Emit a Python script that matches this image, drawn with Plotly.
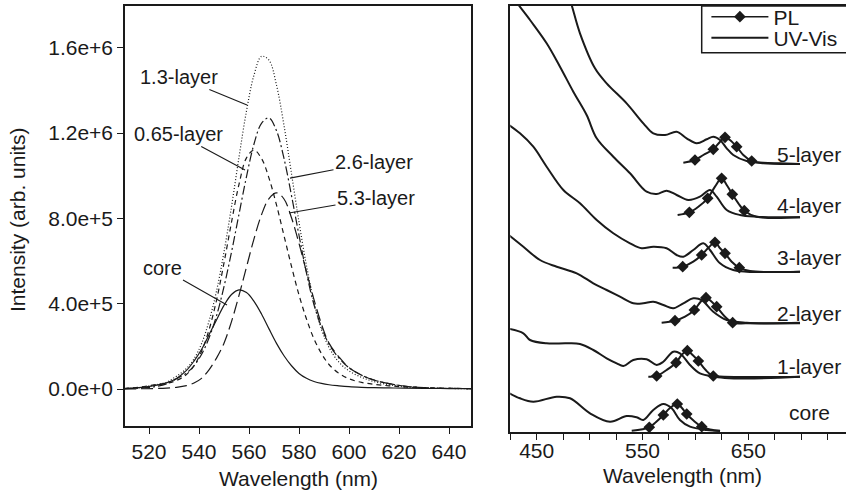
import plotly.graph_objects as go

# ---------------- Left panel: PL spectra (intensity vs wavelength) ----------------
wl_left = [510, 516, 522, 527, 531, 535, 538, 541, 544, 547, 550, 553, 556, 559, 562,
           565, 568, 571, 574, 577, 580, 583, 586, 589, 592, 596, 600, 605, 610, 616,
           622, 630, 640, 650]

pl_core = [2e3, 6e3, 1.56e4, 2.84e4, 4.97e4, 8.74e4, 1.31e5, 1.85e5, 2.54e5, 3.24e5,
           3.92e5, 4.43e5, 4.65e5, 4.52e5, 4.11e5, 3.52e5, 2.82e5, 2.14e5, 1.56e5, 1.09e5,
           7.3e4, 5.0e4, 3.5e4, 2.6e4, 2.0e4, 1.5e4, 1.1e4, 8e3, 6e3, 5e3, 4e3, 3e3, 2e3, 1.5e3]
pl_065 = [3e3, 8e3, 2.0e4, 2.7e4, 4.0e4, 6.8e4, 1.09e5, 1.76e5, 2.77e5, 4.16e5, 5.91e5,
          7.82e5, 9.6e5, 1.084e6, 1.12e6, 1.081e6, 9.89e5, 8.63e5, 7.19e5, 5.75e5, 4.41e5,
          3.28e5, 2.35e5, 1.66e5, 1.15e5, 7.3e4, 4.8e4, 3.1e4, 2.2e4, 1.5e4, 1e4, 6e3, 3e3, 2e3]
pl_13 = [2e3, 6e3, 1.8e4, 3.2e4, 6.0e4, 9.6e4, 1.41e5, 2.12e5, 3.18e5, 4.59e5, 6.42e5,
         8.55e5, 1.087e6, 1.304e6, 1.472e6, 1.56e6, 1.542e6, 1.425e6, 1.236e6, 1.01e6,
         7.83e5, 5.78e5, 4.07e5, 2.79e5, 1.95e5, 1.25e5, 8.5e4, 5.5e4, 3.5e4, 2.0e4, 1.0e4,
         5e3, 2.5e3, 1.5e3]
pl_26 = [2e3, 4e3, 1.0e4, 2.4e4, 4.8e4, 7.5e4, 1.09e5, 1.62e5, 2.39e5, 3.43e5, 4.8e5,
         6.42e5, 8.2e5, 9.96e5, 1.149e6, 1.246e6, 1.271e6, 1.211e6, 1.081e6, 9.07e5, 7.21e5,
         5.43e5, 3.95e5, 2.9e5, 2.1e5, 1.45e5, 1.0e5, 6.5e4, 4.2e4, 2.5e4, 1.4e4, 6e3, 3e3, 2e3]
pl_53 = [1e3, 1e3, 2e3, 4e3, 8e3, 1.6e4, 2.8e4, 5.0e4, 9.0e4, 1.45e5, 2.15e5, 3.16e5,
         4.39e5, 5.72e5, 7.04e5, 8.17e5, 8.93e5, 9.2e5, 8.91e5, 8.03e5, 6.83e5, 5.49e5,
         4.19e5, 3.04e5, 2.15e5, 1.5e5, 1.0e5, 6.5e4, 4.2e4, 2.5e4, 1.4e4, 6e3, 3e3, 2e3]

left_names = ["core", "0.65-layer", "1.3-layer", "2.6-layer", "5.3-layer"]
left_series = [pl_core, pl_065, pl_13, pl_26, pl_53]
left_y_ticks = [0, 4e5, 8e5, 1.2e6, 1.6e6]
left_x_ticks = [520, 540, 560, 580, 600, 620, 640]

# ---------------- Right panel: UV-Vis (offset) and PL (offset) ----------------
uv_wl_5 = [476.0, 481.5, 490.9, 505.1, 516.1, 535.0, 550.8, 560.2, 571.3, 582.3, 591.7,
           601.2, 610.7, 616.9, 623.3, 629.6, 635.8, 648.5, 664.2, 680.0, 698.9]
uv_5 = [4.46, 4.32, 3.987, 3.637, 3.487, 3.287, 3.087, 2.987, 2.97, 3.003, 2.937, 2.887,
        2.927, 2.953, 2.92, 2.837, 2.77, 2.71, 2.693, 2.687, 2.68]
uv_wl_4 = [422.0, 429.5, 443.7, 459.4, 472.0, 484.6, 497.2, 506.7, 522.4, 538.2, 553.9,
           563.4, 572.8, 582.3, 593.3, 604.3, 613.8, 620.1, 629.6, 642.2, 657.9, 698.9]
uv_4 = [4.45, 4.32, 4.12, 3.887, 3.653, 3.403, 3.17, 2.937, 2.753, 2.587, 2.403, 2.38,
        2.413, 2.37, 2.32, 2.353, 2.42, 2.353, 2.22, 2.17, 2.153, 2.147]
uv_wl_3 = [421.6, 434.2, 446.8, 459.4, 475.2, 490.9, 506.7, 522.4, 538.2, 549.2, 560.2,
           572.8, 582.3, 588.6, 598.0, 607.5, 613.8, 623.3, 635.8, 648.5, 698.9]
uv_3 = [3.087, 2.987, 2.853, 2.653, 2.42, 2.287, 2.12, 1.987, 1.887, 1.837, 1.853, 1.837,
        1.77, 1.753, 1.82, 1.887, 1.82, 1.687, 1.62, 1.603, 1.603]
uv_wl_2 = [421.6, 437.4, 453.1, 468.9, 487.8, 503.5, 516.1, 528.7, 541.3, 550.8, 560.2,
           569.7, 579.1, 588.6, 598.0, 605.9, 616.9, 629.6, 648.5, 698.9]
uv_2 = [1.987, 1.853, 1.72, 1.653, 1.587, 1.487, 1.42, 1.353, 1.287, 1.287, 1.303, 1.27,
        1.237, 1.287, 1.337, 1.32, 1.203, 1.12, 1.093, 1.093]
uv_wl_1 = [421.6, 437.4, 443.7, 459.4, 478.3, 490.9, 503.5, 516.1, 525.6, 531.9, 541.3,
           553.9, 563.4, 569.7, 579.1, 585.4, 594.9, 604.3, 616.9, 698.9]
uv_1 = [1.037, 0.987, 0.92, 0.887, 0.887, 0.88, 0.82, 0.737, 0.687, 0.66, 0.72, 0.727,
        0.67, 0.703, 0.803, 0.787, 0.67, 0.587, 0.56, 0.553]
uv_wl_c = [421.6, 434.2, 446.8, 468.9, 481.5, 500.4, 519.3, 535.1, 544.5, 550.8, 560.2,
           569.7, 577.6, 585.4, 594.9, 610.7, 623.3]
uv_c = [0.403, 0.337, 0.303, 0.353, 0.337, 0.187, 0.103, 0.16, 0.147, 0.12, 0.22, 0.28,
        0.237, 0.12, 0.053, 0.02, 0.01]

pl_wl_5 = [588.6, 599.6, 607.5, 616.9, 623.3, 628.0, 632.7, 639.0, 645.3, 653.2, 664.2, 698.9]
pl_5 = [2.693, 2.72, 2.77, 2.827, 2.903, 2.947, 2.92, 2.853, 2.77, 2.71, 2.687, 2.68]
pl_wl_4 = [583.2, 594.3, 602.8, 611.6, 618.5, 624.8, 629.6, 634.9, 640.6, 646.2, 657.9, 698.9]
pl_4 = [2.17, 2.197, 2.253, 2.337, 2.453, 2.537, 2.47, 2.377, 2.287, 2.213, 2.153, 2.147]
pl_wl_3 = [578.5, 588.0, 598.0, 605.9, 613.2, 618.5, 623.3, 628.0, 634.3, 641.5, 651.6, 698.9]
pl_3 = [1.643, 1.653, 1.703, 1.77, 1.853, 1.897, 1.837, 1.787, 1.703, 1.643, 1.61, 1.603]
pl_wl_2 = [568.1, 580.7, 590.2, 599.0, 605.0, 610.0, 615.4, 620.1, 628.0, 635.2, 648.5, 698.9]
pl_2 = [1.093, 1.113, 1.153, 1.22, 1.303, 1.343, 1.303, 1.253, 1.153, 1.093, 1.087, 1.087]
pl_wl_1 = [555.5, 563.4, 572.8, 581.7, 587.0, 592.4, 597.4, 602.8, 609.1, 616.9, 698.9]
pl_1 = [0.553, 0.56, 0.62, 0.693, 0.77, 0.813, 0.77, 0.71, 0.627, 0.56, 0.553]
pl_wl_c = [539.8, 556.4, 562.8, 569.7, 576.0, 582.9, 587.3, 591.8, 598.7, 606.0, 613.8, 623.3]
pl_c = [0.013, 0.047, 0.1, 0.17, 0.24, 0.28, 0.24, 0.18, 0.11, 0.053, 0.025, 0.013]
pl_marker_idx = [1, 3, 5, 7, 9]   # measured points shown as diamonds

right_labels = ["5-layer", "4-layer", "3-layer", "2-layer", "1-layer", "core"]
right_label_y = [2.78, 2.27, 1.747, 1.187, 0.653, 0.197]
right_label_x = 707.4
right_x_ticks = [450, 550, 650]

uv_sets = [(uv_wl_5, uv_5), (uv_wl_4, uv_4), (uv_wl_3, uv_3), (uv_wl_2, uv_2),
           (uv_wl_1, uv_1), (uv_wl_c, uv_c)]
pl_sets = [(pl_wl_5, pl_5), (pl_wl_4, pl_4), (pl_wl_3, pl_3), (pl_wl_2, pl_2),
           (pl_wl_1, pl_1), (pl_wl_c, pl_c)]

# ---------------- Figure ----------------
W, H = 846, 494
FONT = "Liberation Sans, Arial, Helvetica, sans-serif"
INK = "#1a1a1a"

fig = go.Figure()

left_dash = {"core": "solid", "0.65-layer": "5px,4px", "1.3-layer": "1px,2px",
             "2.6-layer": "9px,3px,2px,3px", "5.3-layer": "12px,5px"}
for name, vals in zip(left_names, left_series):
    fig.add_trace(go.Scatter(
        x=wl_left, y=vals, mode="lines", name=name, showlegend=False,
        line=dict(color=INK, width=1.2, dash=left_dash[name], shape="spline"),
        xaxis="x", yaxis="y"))

# legend entries (right panel)
fig.add_trace(go.Scatter(
    x=[None], y=[None], mode="lines+markers", name="PL",
    line=dict(color=INK, width=1.5),
    marker=dict(symbol="diamond", size=9, color=INK),
    xaxis="x2", yaxis="y2", showlegend=True, legend="legend"))

for i, (xw, yv) in enumerate(uv_sets):
    fig.add_trace(go.Scatter(
        x=xw, y=yv, mode="lines", name="UV-Vis", showlegend=(i == 0),
        legend="legend2",
        line=dict(color=INK, width=2, shape="spline"),
        xaxis="x2", yaxis="y2"))

for xw, yv in pl_sets:
    fig.add_trace(go.Scatter(
        x=xw, y=yv, mode="lines", showlegend=False,
        line=dict(color=INK, width=2, shape="spline"),
        xaxis="x2", yaxis="y2"))
    fig.add_trace(go.Scatter(
        x=[xw[k] for k in pl_marker_idx], y=[yv[k] for k in pl_marker_idx],
        mode="markers", showlegend=False,
        marker=dict(symbol="diamond", size=9, color=INK),
        xaxis="x2", yaxis="y2"))

# annotations, left panel (leader lines)
left_ann = [
    ("1.3-layer", 559.2, 1.332e6, -68, -28),
    ("0.65-layer", 558.4, 1.027e6, -67, -36),
    ("2.6-layer", 576.4, 9.89e5, 84, -16),
    ("5.3-layer", 576.0, 8.25e5, 87, -15),
    ("core", 551.2, 3.94e5, -65, -37),
]
for txt, ax_, ay_, dx, dy in left_ann:
    fig.add_annotation(x=ax_, y=ay_, xref="x", yref="y", text=txt,
                       showarrow=True, arrowhead=0, arrowwidth=1.1, arrowcolor=INK,
                       ax=dx, ay=dy, standoff=0,
                       font=dict(size=20, family=FONT, color=INK))

for txt, yy in zip(right_labels, right_label_y):
    fig.add_annotation(x=right_label_x, y=yy, xref="x2", yref="y2", text=txt,
                       showarrow=False, xanchor="center", yanchor="middle",
                       font=dict(size=21, family=FONT, color=INK))

# axis titles
title_font = dict(size=21, family=FONT, color=INK)
fig.add_annotation(x=298 / W, y=1 - 478 / H, xref="paper", yref="paper",
                   text="Wavelength (nm)", showarrow=False, xanchor="center",
                   yanchor="middle", font=title_font)
fig.add_annotation(x=682.5 / W, y=1 - 475 / H, xref="paper", yref="paper",
                   text="Wavelength (nm)", showarrow=False, xanchor="center",
                   yanchor="middle", font=title_font)
fig.add_annotation(x=17 / W, y=1 - 220 / H, xref="paper", yref="paper",
                   text="Intensity (arb. units)", showarrow=False, textangle=-90,
                   xanchor="center", yanchor="middle", font=title_font)

# legend frame
fig.add_shape(type="rect", xref="paper", yref="paper",
              x0=701.7 / W, x1=1.05, y0=1 - 52.7 / H, y1=1 - 6 / H,
              line=dict(color=INK, width=1.5), fillcolor="white", layer="above")

axis_common = dict(showgrid=False, zeroline=False, showline=True, linecolor=INK,
                   linewidth=1.5, tickcolor=INK, tickwidth=1.3,
                   tickfont=dict(size=21, family=FONT, color=INK))

legend_common = dict(xanchor="left", yanchor="middle", borderwidth=0,
                     bgcolor="rgba(0,0,0,0)",
                     font=dict(size=21, family=FONT, color=INK),
                     itemwidth=57, tracegroupgap=0)

fig.update_layout(
    width=W, height=H,
    margin=dict(l=0, r=0, t=0, b=0, autoexpand=False),
    paper_bgcolor="white", plot_bgcolor="white",
    template="none",
    font=dict(family=FONT, color=INK),
    xaxis=dict(domain=[125 / W, 471 / W], range=[510.4, 648.8], anchor="y",
               mirror=True, ticks="outside", ticklen=6,
               tickmode="array", tickvals=left_x_ticks,
               **axis_common),
    yaxis=dict(domain=[1 - 426 / H, 1 - 6 / H], range=[-1.735e5, 1.796e6], anchor="x",
               mirror=True, ticks="outside", ticklen=6,
               tickmode="array", tickvals=left_y_ticks, tickformat=".1e",
               **axis_common),
    xaxis2=dict(domain=[510.25 / W, 1.0], range=[425, 742.35], anchor="y2",
                mirror=True, ticks="outside", ticklen=6, ticklabelstandoff=-7,
                tickmode="array", tickvals=right_x_ticks,
                minor=dict(dtick=25, tick0=425, ticks="outside", ticklen=6,
                           tickcolor=INK, tickwidth=1.3, showgrid=False),
                **axis_common),
    yaxis2=dict(domain=[1 - 432 / H, 1 - 6 / H], range=[0, 4.26], anchor="x2",
                mirror=False, ticks="", showticklabels=False,
                **axis_common),
    legend=dict(x=706.4 / W, y=1 - 17 / H, **legend_common),
    legend2=dict(x=706.4 / W, y=1 - 38 / H, **legend_common),
)

fig.write_html("out.html")
